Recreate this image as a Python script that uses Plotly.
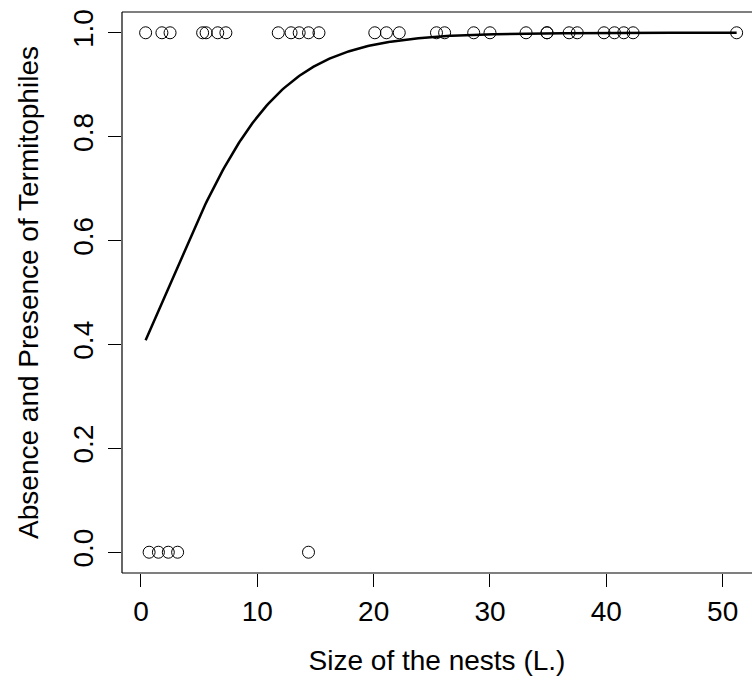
import numpy as np
import plotly.graph_objects as go

# Nest sizes (litres) where termitophiles were present (1) or absent (0)
size_present = [0.4, 1.8, 2.5, 5.3, 5.6, 6.6, 7.3, 11.8, 12.9, 13.6, 14.4, 15.3,
                20.1, 21.1, 22.2, 25.4, 26.1, 28.6, 30.0, 33.1, 34.9, 34.9,
                36.8, 37.5, 39.8, 40.7, 41.5, 42.3, 51.2]
size_absent = [0.7, 1.5, 2.35, 3.15, 14.4]

# Logistic regression coefficients (logit scale)
glm_intercept = -0.455
glm_slope = 0.21

x_all = size_present + size_absent
y_all = [1] * len(size_present) + [0] * len(size_absent)

x_fit = np.linspace(min(x_all), max(x_all), 300)
y_fit = 1.0 / (1.0 + np.exp(-(glm_intercept + glm_slope * x_fit)))

FONT = "Liberation Sans, Arial, sans-serif"
FS = 28

fig = go.Figure()
fig.add_trace(go.Scatter(
    x=x_all, y=y_all, mode="markers",
    marker=dict(symbol="circle-open", size=12, color="black",
                line=dict(width=1, color="black")),
    showlegend=False, hoverinfo="x+y",
))
fig.add_trace(go.Scatter(
    x=x_fit, y=y_fit, mode="lines",
    line=dict(color="black", width=2.5),
    showlegend=False,
))

# Box on the left, top and bottom of the plotting region
for x0, y0, x1, y1 in [(0, 0, 1, 0), (0, 1, 1, 1), (0, 0, 0, 1)]:
    fig.add_shape(type="line", xref="paper", yref="paper",
                  x0=x0, y0=y0, x1=x1, y1=y1,
                  line=dict(color="black", width=1.2))

fig.update_layout(
    width=752, height=681,
    margin=dict(l=122, r=0, t=12, b=108),
    paper_bgcolor="white", plot_bgcolor="white",
    font=dict(family=FONT, size=FS, color="black"),
    xaxis=dict(
        range=[-1.63, 52.52], tickvals=[0, 10, 20, 30, 40, 50],
        ticks="outside", ticklen=13, tickwidth=1, tickcolor="black",
        showgrid=False, zeroline=False, showline=False,
        ticklabelstandoff=0,
        title=dict(text="Size of the nests (L.)", standoff=24,
                   font=dict(size=FS)),
        tickfont=dict(size=FS),
    ),
    yaxis=dict(
        range=[-0.04, 1.04], tickvals=[0, 0.2, 0.4, 0.6, 0.8, 1.0],
        ticktext=["0.0", "0.2", "0.4", "0.6", "0.8", "1.0"],
        ticks="outside", ticklen=13, tickwidth=1, tickcolor="black",
        tickangle=-90,
        showgrid=False, zeroline=False, showline=False,
        ticklabelstandoff=4,
        title=dict(text="Absence and Presence of Termitophiles", standoff=20,
                   font=dict(size=FS)),
        tickfont=dict(size=FS),
    ),
)

fig.write_html("out.html")
